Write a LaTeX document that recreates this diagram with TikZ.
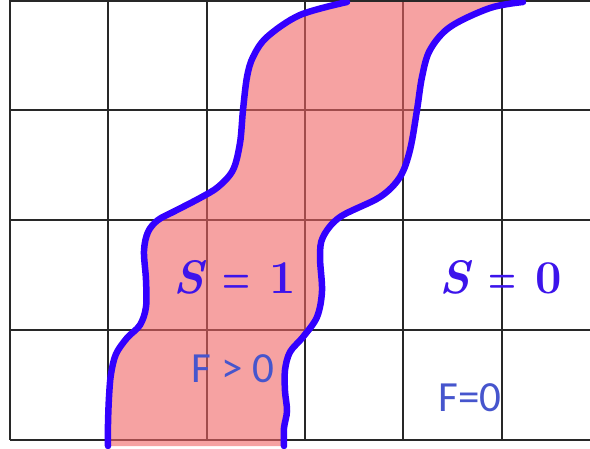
\documentclass[tikz,border=0pt]{standalone}
\usepackage{graphicx}
\usepackage{fontspec}
\newfontfamily\calib{Carlito}
\definecolor{curveblue}{RGB}{51,0,255}
\definecolor{sblue}{RGB}{60,20,235}
\definecolor{fblue}{RGB}{70,85,205}
\definecolor{pinkfill}{RGB}{240,100,100}
\definecolor{gridgray}{RGB}{40,40,40}
\newcommand{\seq}[1]{{\bfseries\itshape S}\hspace{0.38em}\scalebox{0.68}[1]{\bfseries =}\hspace{0.42em}{\bfseries #1}}
\tikzset{
  gridline/.style={draw=gridgray, line width=1.5pt},
  band/.style={fill=pinkfill, fill opacity=0.6},
  edge/.style={draw=curveblue, line width=6.5pt, line cap=round},
  slabel/.style={text=sblue, inner sep=0pt, font=\fontsize{47}{47}\selectfont},
  flabel/.style={text=fblue, inner sep=0pt, font=\calib\fontsize{43}{43}\selectfont}
}
\begin{document}
\begin{tikzpicture}[x=1pt,y=-1pt]
\useasboundingbox (0,0) rectangle (590,448);
% grid
\foreach \xx in {10,108,207,305,403,502} \draw[gridline] (\xx,0) -- (\xx,440);
\foreach \yy in {1,110,220,330,440} \draw[gridline] (10,\yy) -- (590,\yy);
% band
\path[band] plot[smooth,tension=0.55] coordinates {(108,446) (108,424) (109,397) (111,374) (116,354) (127,338) (140,325) (146,307) (146,280) (144,251) (148,232) (158,220) (175,211) (200,198) (218,187) (233,170) (240,143) (243,110) (247,77) (253,57) (267,37) (300,15) (347,2)}
  -- plot[smooth,tension=0.55] coordinates {(523,2) (490,8) (450,27) (430,50) (422,77) (417,110) (410,150) (400,177) (380,197) (340,217) (323,237) (320,257) (322,291) (317,317) (303,337) (290,352) (285,370) (285,391) (287,411) (284,428) (284,446)} -- cycle;
\draw[edge] plot[smooth,tension=0.55] coordinates {(108,446) (108,424) (109,397) (111,374) (116,354) (127,338) (140,325) (146,307) (146,280) (144,251) (148,232) (158,220) (175,211) (200,198) (218,187) (233,170) (240,143) (243,110) (247,77) (253,57) (267,37) (300,15) (347,2)};
\draw[edge] plot[smooth,tension=0.55] coordinates {(523,2) (490,8) (450,27) (430,50) (422,77) (417,110) (410,150) (400,177) (380,197) (340,217) (323,237) (320,257) (322,291) (317,317) (303,337) (290,352) (285,370) (285,391) (287,411) (284,428) (284,446)};
% labels
\node[slabel] (s1) at (235,277) {\seq{1}};
\node[slabel] (s0) at (501,277) {\seq{0}};
\node[flabel, anchor=base] (f1) at (233,382) {F > 0};
\node[flabel, anchor=base] (f0) at (470,411) {F=0};
\end{tikzpicture}
\end{document}
